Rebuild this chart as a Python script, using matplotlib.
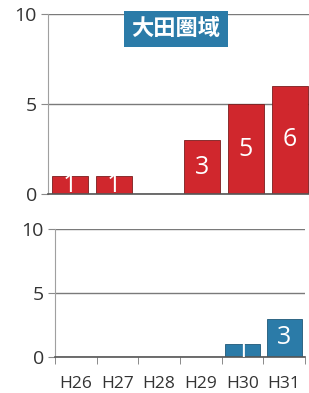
import matplotlib.pyplot as plt

# 年度ごとの件数
years = ['H26', 'H27', 'H28', 'H29', 'H30', 'H31']
upper_counts = [1, 1, 0, 3, 5, 6]
lower_counts = [0, 0, 0, 0, 1, 3]
title = '大田圏域'

red = '#d0272d'
blue = '#2b7ba8'
W, H = 309, 393

plt.rcParams['font.family'] = ['Open Sans', 'Noto Sans CJK JP', 'DejaVu Sans']

fig = plt.figure(figsize=(W / 100, H / 100), dpi=100)
fig.patch.set_facecolor('white')


def axes_px(left, right, top, bottom):
    return fig.add_axes([left / W, (H - bottom) / H, (right - left) / W, (bottom - top) / H])


def style(ax):
    ax.set_ylim(0, 10)
    ax.set_xlim(-0.5, len(years) - 0.5)
    ax.set_yticks([0, 5, 10])
    ax.grid(axis='y', color='#7a7a7a', linewidth=1.0)
    ax.set_axisbelow(True)
    for s in ['top', 'right']:
        ax.spines[s].set_visible(False)
    ax.spines['left'].set_color('#a0a0a0')
    ax.spines['left'].set_linewidth(0.8)
    ax.spines['bottom'].set_color('#555555')
    ax.spines['bottom'].set_linewidth(1.2)
    ax.tick_params(axis='y', length=5, color='#8a8a8a', labelsize=14, labelcolor='#333333', pad=3)


def bars(ax, values, color):
    x = list(range(len(values)))
    b = ax.bar(x, values, width=0.84, color=color, edgecolor='#7a1e1e' if color == red else '#1f5878',
               linewidth=0.6)
    for xi, v in zip(x, values):
        if v > 0:
            ax.text(xi, v / 2, str(v), ha='center', va='center', color='white', fontsize=18)
    return b


# 上段
ax1 = axes_px(48, 312, 14, 194)
style(ax1)
bars(ax1, upper_counts, red)
ax1.set_xticks([])
ax1.text(0.485, 0.917, title, transform=ax1.transAxes, ha='center', va='center',
         fontsize=16, fontweight='bold', color='white',
         bbox=dict(boxstyle='square,pad=0.32', facecolor=blue, edgecolor='none'))

# 下段
ax2 = axes_px(55, 305, 229, 357)
style(ax2)
bars(ax2, lower_counts, blue)
ax2.set_xticks(range(len(years)))
ax2.set_xticklabels(years)
ax2.set_xticks([i - 0.5 for i in range(len(years) + 1)], minor=True)
ax2.tick_params(axis='x', which='major', length=0, labelsize=12.5, labelcolor='#333333', pad=14)
ax2.tick_params(axis='x', which='minor', length=5, color='#777777', direction='out')

fig.savefig('out.png', dpi=100)
